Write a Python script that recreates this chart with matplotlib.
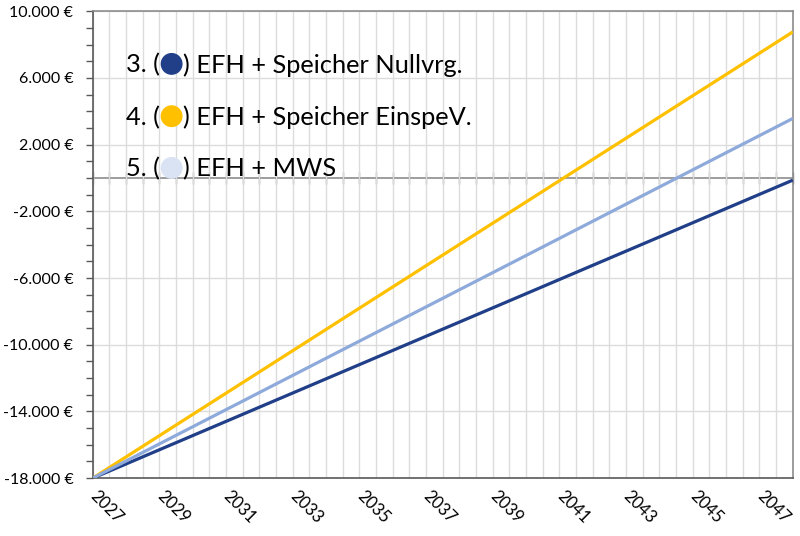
import matplotlib
matplotlib.use("Agg")
import matplotlib.pyplot as plt
from matplotlib.patches import Circle
from matplotlib.ticker import MultipleLocator, FuncFormatter

# ==========================================
# DATA
# ==========================================

years = [2027, 2048]

speicher_nullvrg = [-18000, -130]
speicher_einspev = [-18000, 8760]
efh_mws = [-18000, 3570]

legend_labels = [
    "EFH + Speicher Nullvrg.",
    "EFH + Speicher EinspeV.",
    "EFH + MWS",
]
legend_numbers = ["3.", "4.", "5."]

col_dark = "#203f88"
col_yellow = "#ffc000"
col_light = "#8eaadb"
circle_colors = [col_dark, col_yellow, "#dae3f3"]

x_labels = list(range(2027, 2048, 2))
y_labels = list(range(-18000, 10001, 4000))

FONT = "Lato"
plt.rcParams["font.family"] = [FONT, "DejaVu Sans"]

# ==========================================
# FIGURE
# ==========================================

fig = plt.figure(figsize=(8, 5.36), dpi=100)
ax = fig.add_axes([0.116, 0.108, 0.875, 0.871])

ax.plot(years, speicher_einspev, color=col_yellow, lw=2.3, zorder=4,
        solid_capstyle="butt")
ax.plot(years, efh_mws, color=col_light, lw=2.3, zorder=4,
        solid_capstyle="butt")
ax.plot(years, speicher_nullvrg, color=col_dark, lw=2.3, zorder=3,
        solid_capstyle="butt")

ax.set_xlim(2027, 2048)
ax.set_ylim(-18000, 10000)

# x axis: labels every 2 years, grid every half year
ax.set_xticks(x_labels)
ax.xaxis.set_minor_locator(MultipleLocator(0.5))
ax.tick_params(axis="x", which="both", length=0, labelsize=12, pad=11)
for lab in ax.get_xticklabels():
    lab.set_rotation(-45)
    lab.set_ha("left")
    lab.set_va("center")
    lab.set_rotation_mode("anchor")

ax.grid(axis="x", which="both", color="#dcdcdc", lw=1, zorder=0)

# y axis
ax.set_yticks(y_labels)
ax.yaxis.set_minor_locator(MultipleLocator(1000))
ax.yaxis.set_major_formatter(
    FuncFormatter(lambda v, p: f"{v:,.0f}".replace(",", ".") + " €")
)
ax.tick_params(axis="y", which="both", length=5, width=1,
               color="#595959", labelsize=11.5, pad=9)
ax.grid(axis="y", which="major", color="#dcdcdc", lw=1, zorder=0)

for side in ["left", "bottom"]:
    ax.spines[side].set_color("#595959")
for side in ["top", "right"]:
    ax.spines[side].set_color("#8c8c8c")
for s in ax.spines.values():
    s.set_linewidth(1.2)

# zero line with crossing ticks
zero_ax = ax.secondary_xaxis(0, transform=ax.transData)
zero_ax.spines["bottom"].set_color("#8c8c8c")
zero_ax.spines["bottom"].set_linewidth(1.2)
zero_ax.xaxis.set_major_locator(MultipleLocator(0.5))
zero_ax.tick_params(axis="x", direction="inout", length=8, width=1,
                    color="#8c8c8c", labelbottom=False)

# ==========================================
# LEGEND TEXT
# ==========================================

fig.canvas.draw()
renderer = fig.canvas.get_renderer()

x0 = 126.5
baselines = [72.7, 125.0, 176.7]
H = 536
fs = 18.3
circle_d = 20.5

for num, label, ccol, base in zip(legend_numbers, legend_labels,
                                  circle_colors, baselines):
    t1 = fig.text(x0 / 800, 1 - base / H, num + " (", fontsize=fs,
                  va="baseline", ha="left", zorder=6)
    bb = t1.get_window_extent(renderer)
    cx = bb.x1 + 1 + circle_d / 2
    cy = (H - base) + 8.8
    fig.patches.append(
        Circle((cx, cy), circle_d / 2, color=ccol, transform=None, zorder=6)
    )
    fig.text((cx + circle_d / 2 + 1) / 800, 1 - base / H, ") " + label,
             fontsize=fs, va="baseline", ha="left", zorder=6)

fig.savefig("out.png", dpi=100)
